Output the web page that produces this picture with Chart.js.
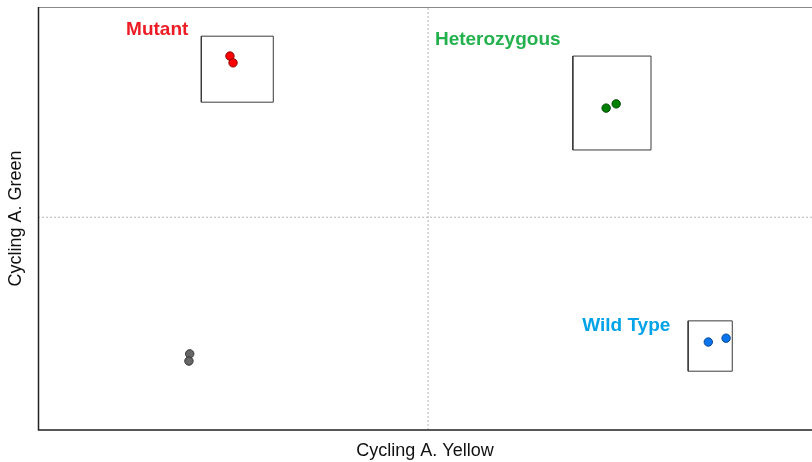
<!DOCTYPE html>
<html lang="en">
<head>
    <meta charset="UTF-8">
    <title>Allelic discrimination</title>
    <script src="https://cdn.jsdelivr.net/npm/chart.js"></script>
    <style>
        body { margin: 0; background: #fff; }
        #wrap { width: 812px; height: 462px; }
    </style>
</head>
<body>
    <div id="wrap"><canvas id="myChart"></canvas></div>

<script>
    // valores (escala 0-100 nos dois eixos)
    var mutanteX = [24.8, 25.2]
    var mutanteY = [88.4, 86.8]
    var heteroX = [73.4, 74.7]
    var heteroY = [76.1, 77.1]
    var selvagemX = [86.6, 88.9]
    var selvagemY = [20.8, 21.7]
    var semSinalX = [19.6, 19.5]
    var semSinalY = [18.0, 16.3]

    // caixas: [xmin, xmax, ymin, ymax]
    var caixaMutante = [21.1, 30.4, 77.5, 93.1]
    var caixaHetero = [69.1, 79.2, 66.2, 88.4]
    var caixaSelvagem = [84.0, 89.7, 13.9, 25.8]

    var rotulos = ['Mutant', 'Heterozygous', 'Wild Type']
    var rotulosX = [15.4, 59.4, 76.0]
    var rotulosY = [94.5, 92.2, 24.6]
    var coresRotulos = ['#ED1C24', '#22B14C', '#00A2E8']

    var limiteX = 50.4
    var limiteY = 50.3

    function pontos(xs, ys) {
        return xs.map(function (x, i) { return { x: x, y: ys[i] } })
    }

    function caixa(c) {
        return [
            { x: c[0], y: c[2] }, { x: c[1], y: c[2] }, { x: c[1], y: c[3] },
            { x: c[0], y: c[3] }, { x: c[0], y: c[2] }
        ]
    }

    function dsPontos(xs, ys, cor, borda) {
        return {
            data: pontos(xs, ys),
            backgroundColor: cor,
            borderColor: borda,
            borderWidth: 1,
            pointRadius: 4.2,
            showLine: false
        }
    }

    function dsCaixa(c) {
        return {
            data: caixa(c),
            showLine: true,
            borderColor: '#3a3a3a',
            borderWidth: 1,
            pointRadius: 0,
            fill: false,
            tension: 0
        }
    }

    function dsLimite(dados) {
        return {
            data: dados,
            showLine: true,
            borderColor: '#b5b5b5',
            borderWidth: 1,
            borderDash: [2, 2],
            pointRadius: 0,
            fill: false
        }
    }

    const molduraPlugin = {
        id: 'moldura',
        afterDatasetsDraw(chart) {
            const ctx = chart.ctx
            const a = chart.chartArea
            const xs = chart.scales.x
            const ys = chart.scales.y
            ctx.save()
            // borda superior
            ctx.strokeStyle = '#888'
            ctx.lineWidth = 1
            ctx.beginPath()
            ctx.moveTo(a.left, a.top + 0.5)
            ctx.lineTo(a.right, a.top + 0.5)
            ctx.stroke()
            // eixos
            ctx.strokeStyle = '#222'
            ctx.lineWidth = 1.5
            ctx.beginPath()
            ctx.moveTo(a.left + 0.5, a.top)
            ctx.lineTo(a.left + 0.5, a.bottom)
            ctx.lineTo(a.right, a.bottom)
            ctx.stroke()
            // rotulos dos grupos
            ctx.font = 'bold 19px "Liberation Sans", Arial, sans-serif'
            ctx.textAlign = 'center'
            ctx.textBaseline = 'middle'
            for (var i = 0; i < rotulos.length; i++) {
                ctx.fillStyle = coresRotulos[i]
                ctx.fillText(rotulos[i], xs.getPixelForValue(rotulosX[i]), ys.getPixelForValue(rotulosY[i]))
            }
            // titulos dos eixos
            ctx.fillStyle = '#111'
            ctx.font = '18px "Liberation Sans", Arial, sans-serif'
            ctx.fillText('Cycling A. Yellow', 425, 451)
            ctx.translate(16, (a.top + a.bottom) / 2)
            ctx.rotate(-Math.PI / 2)
            ctx.fillText('Cycling A. Green', 0, 0)
            ctx.restore()
        }
    }

    const data = {
        datasets: [
            dsLimite([{ x: limiteX, y: 0 }, { x: limiteX, y: 100 }]),
            dsLimite([{ x: 0, y: limiteY }, { x: 100, y: limiteY }]),
            dsCaixa(caixaMutante),
            dsCaixa(caixaHetero),
            dsCaixa(caixaSelvagem),
            dsPontos(mutanteX, mutanteY, '#FF0000', '#8a0000'),
            dsPontos(heteroX, heteroY, '#008000', '#004400'),
            dsPontos(selvagemX, selvagemY, '#0A74EE', '#08468f'),
            dsPontos(semSinalX, semSinalY, '#666666', '#333333')
        ]
    }

    const config = {
        type: 'scatter',
        data: data,
        options: {
            responsive: true,
            maintainAspectRatio: false,
            animation: false,
            layout: { autoPadding: false, padding: { left: 38, right: 0, top: 7, bottom: 32 } },
            plugins: { legend: { display: false }, tooltip: { enabled: false } },
            scales: {
                x: { display: false, min: 0, max: 100 },
                y: { display: false, min: 0, max: 100 }
            }
        },
        plugins: [molduraPlugin]
    }

    const myChart = new Chart(document.getElementById('myChart'), config)
</script>
</body>
</html>
